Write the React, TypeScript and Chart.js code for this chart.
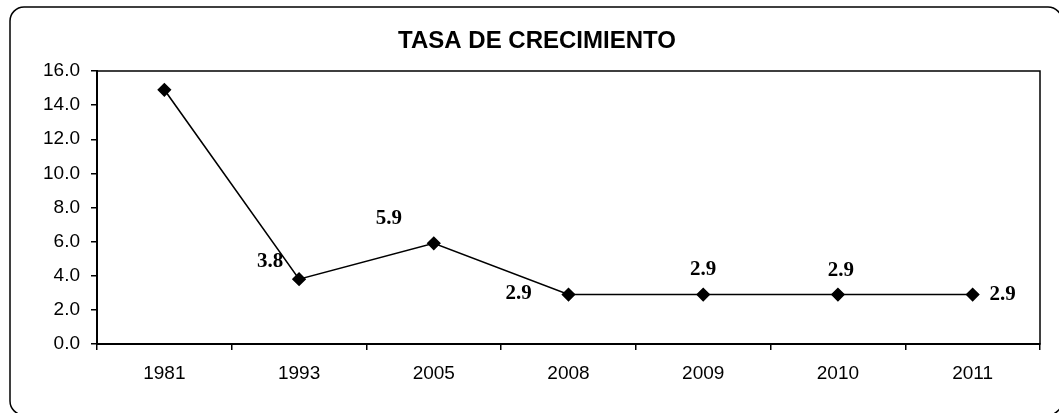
import React, { useEffect, useRef } from "react";
import { Chart, registerables } from "chart.js";

Chart.register(...registerables);

const categories = ["1981", "1993", "2005", "2008", "2009", "2010", "2011"];
const growthRate = [14.9, 3.8, 5.9, 2.9, 2.9, 2.9, 2.9];
const valueLabels = ["", "3.8", "5.9", "2.9", "2.9", "2.9", "2.9"];
const chartTitle = "TASA DE CRECIMIENTO";
const yMin = 0;
const yMax = 16;
const yStep = 2;
// label placement relative to its point (dx, dy in px)
const labelOffsets: [number, number][] = [
  [0, 0],
  [-29, -18],
  [-45, -25],
  [-50, -1],
  [0, -25],
  [3, -24],
  [30, 0],
];

const framePlugin = {
  id: "frame",
  beforeDraw(chart: any) {
    const ctx = chart.ctx;
    ctx.save();
    ctx.fillStyle = "#ffffff";
    ctx.fillRect(0, 0, chart.width, chart.height);
    // outer rounded frame
    ctx.strokeStyle = "#000";
    ctx.lineWidth = 1.5;
    ctx.beginPath();
    if (ctx.roundRect) {
      ctx.roundRect(10, 7, 1052, 408, 14);
    } else {
      ctx.rect(10, 7, 1052, 408);
    }
    ctx.stroke();
    // title
    ctx.fillStyle = "#000";
    ctx.font = "bold 24px 'Liberation Sans', Arial, sans-serif";
    ctx.textAlign = "center";
    ctx.textBaseline = "middle";
    ctx.fillText(chartTitle, 537, 41);
    ctx.restore();
  },
  beforeDatasetsDraw(chart: any) {
    const { ctx, chartArea } = chart;
    ctx.save();
    ctx.strokeStyle = "#000";
    ctx.lineWidth = 1.5;
    ctx.strokeRect(chartArea.left, chartArea.top, chartArea.right - chartArea.left, chartArea.bottom - chartArea.top);
    ctx.restore();
  },
  afterDatasetsDraw(chart: any) {
    const ctx = chart.ctx;
    const meta = chart.getDatasetMeta(0);
    ctx.save();
    ctx.fillStyle = "#000";
    ctx.font = "bold 21px 'Liberation Serif', 'Times New Roman', serif";
    ctx.textAlign = "center";
    ctx.textBaseline = "middle";
    meta.data.forEach((pt: any, i: number) => {
      const txt = valueLabels[i];
      if (!txt) return;
      const [dx, dy] = labelOffsets[i];
      ctx.fillText(txt, pt.x + dx, pt.y + dy);
    });
    ctx.restore();
  },
};

export default function App() {
  const ref = useRef<HTMLCanvasElement | null>(null);
  useEffect(() => {
    if (!ref.current) return;
    const chart = new Chart(ref.current, {
      type: "line",
      data: {
        labels: categories,
        datasets: [
          {
            data: growthRate,
            borderColor: "#000",
            backgroundColor: "#000",
            borderWidth: 1.6,
            pointStyle: "rectRot",
            pointRadius: 6,
            pointBackgroundColor: "#000",
            pointBorderColor: "#000",
            tension: 0,
          },
        ],
      },
      options: {
        responsive: false,
        animation: false,
        layout: { padding: { left: 0, top: 71, right: 19, bottom: 0 } },
        plugins: {
          legend: { display: false },
          title: { display: false },
          tooltip: { enabled: false },
        },
        scales: {
          x: {
            offset: true,
            grid: {
              offset: true,
              drawOnChartArea: false,
              drawTicks: true,
              tickLength: 6,
              color: "#000",
              lineWidth: 1.5,
            },
            border: { display: true, color: "#000", width: 2 },
            ticks: {
              color: "#000",
              padding: 12,
              font: { family: "'Liberation Sans', Arial, sans-serif", size: 19 },
              maxRotation: 0,
            },
            afterFit(scale: any) {
              scale.height = 69;
            },
          },
          y: {
            min: yMin,
            max: yMax,
            grid: {
              drawOnChartArea: false,
              drawTicks: true,
              tickLength: 6,
              color: "#000",
              lineWidth: 1.5,
            },
            border: { display: true, color: "#000", width: 2 },
            ticks: {
              stepSize: yStep,
              color: "#000",
              padding: 11,
              font: { family: "'Liberation Sans', Arial, sans-serif", size: 19 },
              callback: (v: any) => Number(v).toFixed(1),
            },
            afterFit(scale: any) {
              scale.width = 97;
            },
          },
        },
      },
      plugins: [framePlugin],
    });
    return () => chart.destroy();
  }, []);
  return (
    <div style={{ position: "absolute", left: 0, top: 0, width: 1059, height: 413 }}>
      <canvas ref={ref} width={1059} height={413} />
    </div>
  );
}
